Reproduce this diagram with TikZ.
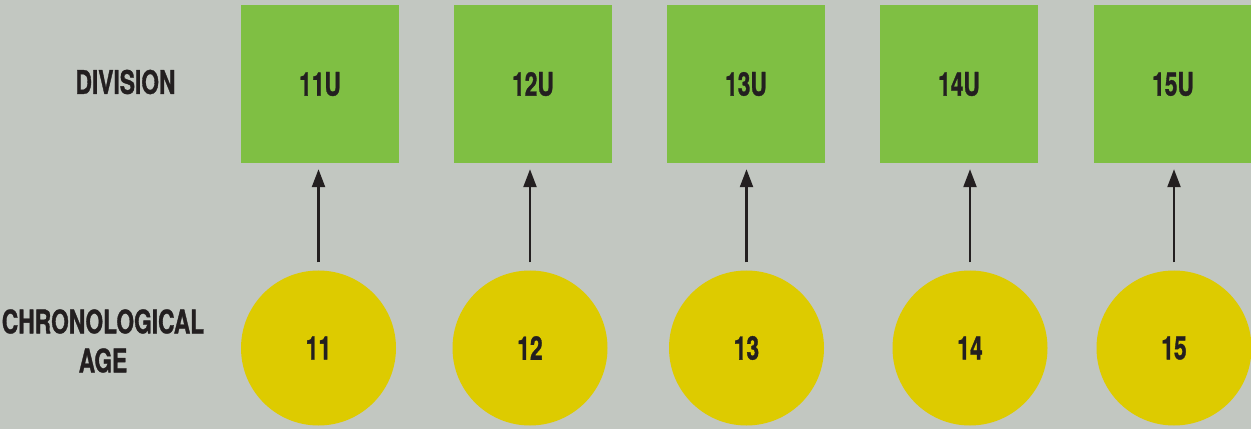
\documentclass[tikz,border=0pt]{standalone}
\usepackage{fontspec}
\setmainfont{TeX Gyre Heros}[FakeStretch=0.70,BoldFeatures={FakeBold=1}]
\usetikzlibrary{arrows.meta}
\definecolor{bg}{HTML}{C2C7C1}
\definecolor{grn}{HTML}{7FBF43}
\definecolor{yel}{HTML}{DDCB00}
\definecolor{ink}{HTML}{231F20}
\tikzset{
  lbl/.style={text=ink,font=\bfseries\fontsize{32.5}{39}\selectfont,align=center,inner sep=0pt},
  divbox/.style={fill=grn,minimum size=158pt,inner sep=0pt,lbl},
  agecirc/.style={circle,fill=yel,minimum size=155pt,inner sep=0pt,lbl},
  arr/.style={draw=ink,line width=2.3pt,-{Triangle[length=18pt,width=13pt]},shorten >=6pt}
}
\begin{document}
\begin{tikzpicture}[x=1pt,y=1pt]
\fill[bg] (0,0) rectangle (1251,429);
\useasboundingbox (0,0) rectangle (1251,429);
\begin{scope}
\clip (0,0) rectangle (1251,429);
\node[lbl] (div) at (125.5,347) {DIVISION};
\node[lbl] (age) at (103,88) {CHRONOLOGICAL\\AGE};
\foreach \i/\sx/\cx/\n in {1/320/318.5/11,2/533/530/12,3/746/746.5/13,4/959/970/14,5/1173/1174/15}{
  \node[divbox] (s\i) at (\sx,345) {\n U};
  \node[agecirc] (c\i) at (\cx,81) {\n};
  \draw[arr] ([yshift=8pt]c\i.north) -- (c\i.north |- s\i.south);
}
\end{scope}
\end{tikzpicture}
\end{document}
